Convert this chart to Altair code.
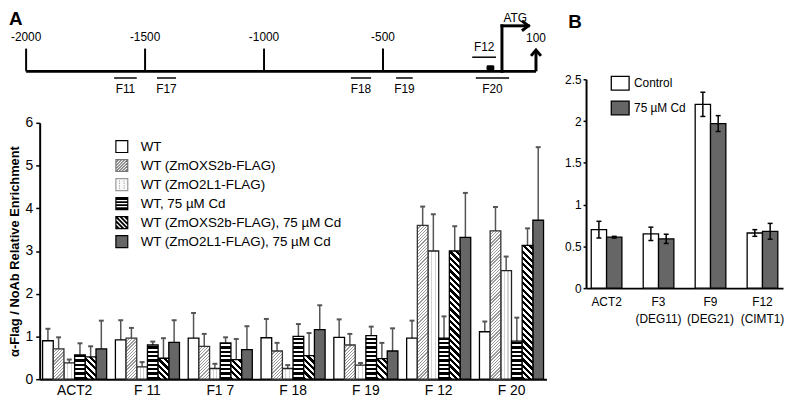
import altair as alt
import pandas as pd

# ======================= DATA =======================
# Panel A, promoter map (bp relative to ATG)
map_ticks = [-2000, -1500, -1000, -500]
map_tick_labels = ["-2000", "-1500", "-1000", "-500"]
map_end = 143
map_end_label = "100"
frag_names = ["F11", "F17", "F18", "F19", "F20"]
frag_start = [-1630, -1450, -635, -445, -110]
frag_end = [-1535, -1370, -550, -375, 30]
f12_name = "F12"
f12_start, f12_end = -125, -25
box_start, box_end = -65, -32
atg_pos = 0
atg_arrow_end = 111

# Panel A, ChIP enrichment
groups_a = ["ACT2", "F 11", "F1 7", "F 18", "F 19", "F 12", "F 20"]
series_a = ["WT", "WT (ZmOXS2b-FLAG)", "WT (ZmO2L1-FLAG)", "WT, 75 µM Cd",
            "WT (ZmOXS2b-FLAG), 75 µM Cd", "WT (ZmO2L1-FLAG), 75 µM Cd"]
wt = [0.90, 0.92, 0.96, 0.97, 0.98, 0.96, 1.11]
wt_sd = [0.28, 0.46, 0.59, 0.44, 0.42, 0.41, 0.24]
oxs = [0.71, 0.96, 0.77, 0.66, 0.80, 3.60, 3.47]
oxs_sd = [0.27, 0.24, 0.29, 0.19, 0.26, 0.44, 0.56]
o2l = [0.38, 0.29, 0.25, 0.25, 0.33, 3.00, 2.54]
o2l_sd = [0.08, 0.11, 0.11, 0.08, 0.05, 0.86, 0.33]
wtcd = [0.57, 0.80, 0.85, 1.00, 1.02, 0.96, 0.89]
wtcd_sd = [0.27, 0.08, 0.13, 0.29, 0.21, 0.51, 0.55]
oxscd = [0.52, 0.49, 0.46, 0.55, 0.48, 3.00, 3.13]
oxscd_sd = [0.25, 0.47, 0.48, 0.53, 0.37, 0.58, 0.40]
o2lcd = [0.71, 0.86, 0.69, 1.16, 0.66, 3.32, 3.72]
o2lcd_sd = [0.66, 0.52, 0.55, 0.57, 0.53, 1.04, 1.71]

# Panel B
groups_b = ["ACT2", "F3\n(DEG11)", "F9\n(DEG21)", "F12\n(CIMT1)"]
conds_b = ["Control", "75 µM Cd"]
control = [0.70, 0.65, 2.20, 0.66]
control_sd = [0.10, 0.08, 0.145, 0.04]
cd = [0.61, 0.59, 1.97, 0.68]
cd_sd = [0.01, 0.055, 0.095, 0.095]

# ======================= LAYOUT / STYLE =======================
FONT = "Liberation Sans"
A_W, A_H = 512, 259
B_W, B_H = 199, 211
MAP_H = 86
MAP_DOM = [-1943, 187]
MAP_Y = [-26, 60]
LV_TICK_TOP, LV_TICK_LAB = 23, 35
LV_FRAG, LV_FRAG_LAB = -6.7, -17.5
LV_F12, LV_F12_LAB = 14.3, 25
LV_BOX = (0.8, 6.2)
LV_ATG, LV_ATG_LAB = 46, 54
LV_END, LV_END_LAB = 21.6, 33.3

# ======================= PANEL A: MAP =======================
SCX = alt.Scale(domain=MAP_DOM, nice=False, zero=False)
SCY = alt.Scale(domain=MAP_Y, nice=False, zero=False)


def mx(f):
    return alt.X(f, type="quantitative", scale=SCX, axis=None, title=None)


def my(f):
    return alt.Y(f, type="quantitative", scale=SCY, axis=None, title=None)


txt = dict(font=FONT, fontSize=12, color="black", baseline="middle", align="center")

line_df = pd.DataFrame({"a": [map_ticks[0]], "b": [map_end], "y": [0]})
tick_df = pd.DataFrame({"pos": map_ticks, "lab": map_tick_labels,
                        "y0": 0, "y1": LV_TICK_TOP, "ly": LV_TICK_LAB})
frag_df = pd.DataFrame({"name": frag_names, "a": frag_start, "b": frag_end,
                        "mid": [(s + e) / 2 for s, e in zip(frag_start, frag_end)],
                        "y": LV_FRAG, "ly": LV_FRAG_LAB})
f12_df = pd.DataFrame({"name": [f12_name], "a": [f12_start], "b": [f12_end],
                       "mid": [(f12_start + f12_end) / 2], "y": [LV_F12], "ly": [LV_F12_LAB]})
box_df = pd.DataFrame({"a": [box_start], "b": [box_end], "y0": [LV_BOX[0]], "y1": [LV_BOX[1]]})
atg_v_df = pd.DataFrame({"x": [atg_pos], "y0": [0], "y1": [LV_ATG]})
atg_h_df = pd.DataFrame({"a": [atg_pos], "b": [atg_arrow_end], "y": [LV_ATG]})
atg_lab_df = pd.DataFrame({"x": [(atg_pos + atg_arrow_end) / 2], "y": [LV_ATG_LAB], "t": ["ATG"]})
end_v_df = pd.DataFrame({"x": [map_end], "y0": [0], "y1": [LV_END]})
end_lab_df = pd.DataFrame({"x": [map_end], "y": [LV_END_LAB], "t": [map_end_label]})

CHEV_R = "M-1.3,-1L0,0L-1.3,1"
CHEV_U = "M-1,1.2L0,0L1,1.2"

map_layers = [
    alt.Chart(line_df).mark_rule(strokeWidth=3, color="black").encode(x=mx("a"), x2="b", y=my("y")),
    alt.Chart(tick_df).mark_rule(strokeWidth=2, color="black").encode(x=mx("pos"), y=my("y0"), y2="y1"),
    alt.Chart(tick_df).mark_text(**txt).encode(x=mx("pos"), y=my("ly"), text="lab:N"),
    alt.Chart(frag_df).mark_rule(strokeWidth=1.5, color="black").encode(x=mx("a"), x2="b", y=my("y")),
    alt.Chart(frag_df).mark_text(**txt).encode(x=mx("mid"), y=my("ly"), text="name:N"),
    alt.Chart(f12_df).mark_rule(strokeWidth=1.5, color="black").encode(x=mx("a"), x2="b", y=my("y")),
    alt.Chart(f12_df).mark_text(**txt).encode(x=mx("mid"), y=my("ly"), text="name:N"),
    alt.Chart(box_df).mark_rect(color="black", cornerRadius=1.5).encode(x=mx("a"), x2="b", y=my("y0"), y2="y1"),
    alt.Chart(atg_v_df).mark_rule(strokeWidth=3, color="black", strokeCap="square").encode(x=mx("x"), y=my("y0"), y2="y1"),
    alt.Chart(atg_h_df).mark_rule(strokeWidth=3, color="black", strokeCap="square").encode(x=mx("a"), x2="b", y=my("y")),
    alt.Chart(atg_h_df).mark_point(shape=CHEV_R, size=100, filled=False, stroke="black",
                                   strokeWidth=3, strokeJoin="miter", opacity=1).encode(x=mx("b"), y=my("y")),
    alt.Chart(atg_lab_df).mark_text(**txt).encode(x=mx("x"), y=my("y"), text="t:N"),
    alt.Chart(end_v_df).mark_rule(strokeWidth=3, color="black").encode(x=mx("x"), y=my("y0"), y2="y1"),
    alt.Chart(end_v_df).mark_point(shape=CHEV_U, size=100, filled=False, stroke="black",
                                   strokeWidth=3, strokeJoin="miter", opacity=1).encode(x=mx("x"), y=my("y1")),
    alt.Chart(end_lab_df).mark_text(**txt).encode(x=mx("x"), y=my("y"), text="t:N"),
]
map_chart = alt.layer(*map_layers).properties(
    width=A_W, height=MAP_H,
    title=alt.TitleParams("A", anchor="start", frame="group", fontSize=19, fontWeight="bold",
                          font=FONT, dx=-31, dy=17, offset=0, color="black"),
)

# ======================= PANEL A: BARS =======================
vals = [wt, oxs, o2l, wtcd, oxscd, o2lcd]
sds = [wt_sd, oxs_sd, o2l_sd, wtcd_sd, oxscd_sd, o2lcd_sd]
rows = []
for si, s in enumerate(series_a):
    for gi, g in enumerate(groups_a):
        v = vals[si][gi]
        rows.append({"g": g, "s": s, "v": v, "top": v + sds[si][gi], "key": f"{gi}|{si}"})
dfA = pd.DataFrame(rows)

PI_A, PO_A = 0.12, 0.04
step_a = A_W / (len(groups_a) - PI_A + 2 * PO_A)
bar_w = step_a * (1 - PI_A) / len(series_a)
px_per_unit = A_H / 6.0

XA = alt.X("g:N", scale=alt.Scale(domain=groups_a, paddingInner=PI_A, paddingOuter=PO_A),
           axis=alt.Axis(title=None, labelAngle=0, ticks=False, labelFontSize=14, labelFont=FONT,
                         labelColor="black", domainColor="black", domainWidth=2, labelPadding=4))
XOA = alt.XOffset("s:N", scale=alt.Scale(domain=series_a, paddingInner=0, paddingOuter=0))


def YA(f):
    return alt.Y(f, type="quantitative", scale=alt.Scale(domain=[0, 6], nice=False),
                 axis=alt.Axis(values=[0, 1, 2, 3, 4, 5, 6], title="α-Flag / NoAb Relative Enrichment",
                               titleFontWeight="bold", titleFontSize=13, titleFont=FONT, titleColor="black",
                               labelFontSize=14, labelFont=FONT, labelColor="black", tickSize=4,
                               tickColor="black", tickWidth=1.5, grid=False, domainColor="black",
                               domainWidth=2, labelPadding=3, titlePadding=4))


def stop_list(dt, frac, on, off):
    out = []
    k = 0
    while k * dt < 1:
        a = k * dt
        b = min(1.0, (k + frac) * dt)
        c = min(1.0, (k + 1) * dt)
        out += [(a, on), (b, on), (b, off), (c, off)]
        k += 1
    return [alt.GradientStop(offset=round(o, 5), color=c) for o, c in out]


def grad_h(h, period, frac, on, off):
    return alt.LinearGradient(gradient="linear", x1=0, y1=1, x2=0, y2=0,
                              stops=stop_list(period / max(h, 1), frac, on, off))


def grad_diag(h, period, frac, on, off, slash=True):
    w = bar_w
    lam = (w + h) / (w * w + h * h)
    dt = period / (w + h)
    if slash:
        return alt.LinearGradient(gradient="linear", x1=0, y1=0, x2=lam * w, y2=lam * h,
                                  stops=stop_list(dt, frac, on, off))
    return alt.LinearGradient(gradient="linear", x1=0, y1=1, x2=lam * w, y2=1 - lam * h,
                              stops=stop_list(dt, frac, on, off))


dots_grad = alt.LinearGradient(gradient="linear", x1=0, y1=0, x2=1, y2=0, stops=[
    alt.GradientStop(offset=0, color="white"), alt.GradientStop(offset=0.28, color="white"),
    alt.GradientStop(offset=0.28, color="#d4d4d4"), alt.GradientStop(offset=0.38, color="#d4d4d4"),
    alt.GradientStop(offset=0.38, color="white"), alt.GradientStop(offset=0.62, color="white"),
    alt.GradientStop(offset=0.62, color="#d4d4d4"), alt.GradientStop(offset=0.72, color="#d4d4d4"),
    alt.GradientStop(offset=0.72, color="white"), alt.GradientStop(offset=1, color="white")])

enc_bar = dict(x=XA, xOffset=XOA, y=YA("v"))
a_layers = [
    alt.Chart().mark_rule(color="#555555", strokeWidth=1.5).encode(x=XA, xOffset=XOA, y=YA("v"), y2="top"),
    alt.Chart().mark_tick(color="#555555", thickness=2, size=5, opacity=1).encode(x=XA, xOffset=XOA, y=YA("top")),
    alt.Chart().transform_filter(alt.datum.s == series_a[0]).mark_bar(
        fill="white", stroke="black", strokeWidth=1.3).encode(**enc_bar),
    alt.Chart().transform_filter(alt.datum.s == series_a[2]).mark_bar(
        fill=dots_grad, stroke="#222222", strokeWidth=1.3).encode(**enc_bar),
    alt.Chart().transform_filter(alt.datum.s == series_a[5]).mark_bar(
        fill="#666666", stroke="black", strokeWidth=1.3).encode(**enc_bar),
]
for gi, g in enumerate(groups_a):
    for si, kind in [(1, "light"), (3, "horiz"), (4, "bold")]:
        h = vals[si][gi] * px_per_unit
        if kind == "light":
            fill = grad_diag(h, 3.2, 0.4, "#9a9a9a", "white", slash=True)
            stroke = "#333333"
        elif kind == "horiz":
            fill = grad_h(h, 4.4, 0.55, "black", "white")
            stroke = "black"
        else:
            fill = grad_diag(h, 6.4, 0.5, "black", "white", slash=False)
            stroke = "black"
        a_layers.append(
            alt.Chart().transform_filter(alt.datum.key == f"{gi}|{si}").mark_bar(
                fill=fill, stroke=stroke, strokeWidth=1.3).encode(**enc_bar))


# legend symbols (custom paths in unit square)
def seg(x0, y0, x1, y1):
    return f"M{x0:.3f},{y0:.3f}L{x1:.3f},{y1:.3f}"


SQ = "M-1,-1H1V1H-1Z"
p_slash = SQ
for c in [-1.5, -1.0, -0.5, 0.0, 0.5, 1.0, 1.5]:
    xa, xb = max(-1, c - 1), min(1, c + 1)
    p_slash += seg(xa, c - xa, xb, c - xb)
p_dots = SQ
for xx in [-0.45, 0.3]:
    for yy in [-0.6, -0.2, 0.2, 0.6]:
        p_dots += f"M{xx},{yy}h0.15"
p_horiz = SQ
for yc in [-0.75, -0.25, 0.25, 0.75]:
    for d in [-0.05, 0.05]:
        p_horiz += seg(-1, yc + d, 1, yc + d)
p_back = SQ
for c in [-1.5, -0.75, 0.0, 0.75, 1.5]:
    for d in [-0.08, 0.08]:
        cc = c + d
        xa, xb = max(-1, cc - 1), min(1, cc + 1)
        if xb > xa:
            p_back += seg(xa, xa - cc, xb, xb - cc)

leg_a = alt.Legend(title=None, orient="none", legendX=76, legendY=17, symbolSize=144,
                   symbolStrokeWidth=1.2, labelFontSize=13.5, labelFont=FONT, labelColor="black",
                   labelOffset=12, rowPadding=1.2, labelLimit=400, padding=0)
legend_layer = alt.Chart().transform_filter("false").mark_point(filled=True, strokeWidth=1.2, opacity=1).encode(
    shape=alt.Shape("s:N", scale=alt.Scale(domain=series_a, range=[SQ, p_slash, p_dots, p_horiz, p_back, SQ]),
                    legend=leg_a),
    fill=alt.Fill("s:N", scale=alt.Scale(domain=series_a,
                                         range=["white", "white", "#fafafa", "white", "white", "#666666"]),
                  legend=leg_a),
    stroke=alt.Stroke("s:N", scale=alt.Scale(domain=series_a,
                                             range=["black", "#777777", "#999999", "black", "black", "black"]),
                      legend=leg_a),
)
a_layers.append(legend_layer)
bars_a = alt.layer(*a_layers, data=dfA).properties(width=A_W, height=A_H)

col_a = alt.vconcat(map_chart, bars_a, spacing=19).resolve_scale(
    fill="independent", stroke="independent", shape="independent"
).resolve_legend(fill="independent", stroke="independent", shape="independent")

# ======================= PANEL B =======================
rows_b = []
for ci, c in enumerate(conds_b):
    vv, ss = (control, control_sd) if ci == 0 else (cd, cd_sd)
    for gi, g in enumerate(groups_b):
        rows_b.append({"g": g, "c": c, "v": vv[gi], "lo": vv[gi] - ss[gi], "hi": vv[gi] + ss[gi]})
dfB = pd.DataFrame(rows_b)

XB = alt.X("g:N", scale=alt.Scale(domain=groups_b, paddingInner=0.41, paddingOuter=0.10),
           axis=alt.Axis(title=None, labelAngle=0, ticks=False, labelFontSize=12, labelFont=FONT,
                         labelColor="black", labelExpr="split(datum.label, '\\n')", labelLineHeight=17,
                         labelBaseline="middle", domainColor="black", domainWidth=2, labelPadding=14))
XOB = alt.XOffset("c:N", scale=alt.Scale(domain=conds_b, paddingInner=0, paddingOuter=0))


def YB(f):
    return alt.Y(f, type="quantitative", scale=alt.Scale(domain=[0, 2.5], nice=False),
                 axis=alt.Axis(values=[0, 0.5, 1, 1.5, 2, 2.5], format="~g", title=None, grid=False,
                               labelFontSize=12, labelFont=FONT, labelColor="black", tickSize=3,
                               tickColor="black", tickWidth=1.5, domainColor="black", domainWidth=2,
                               labelPadding=2))


leg_b = alt.Legend(title=None, orient="none", legendX=24.5, legendY=-6,
                   symbolType="M-1,-0.78H1V0.78H-1Z", symbolSize=324, symbolStrokeColor="black",
                   symbolStrokeWidth=1.3, labelFontSize=12, labelFont=FONT, labelColor="black",
                   labelOffset=4, rowPadding=5, padding=0)
bars_b = alt.layer(
    alt.Chart().mark_bar(stroke="black", strokeWidth=1.3).encode(
        x=XB, xOffset=XOB, y=YB("v"),
        fill=alt.Fill("c:N", scale=alt.Scale(domain=conds_b, range=["white", "#666666"]), legend=leg_b)),
    alt.Chart().mark_rule(color="black", strokeWidth=1.5).encode(x=XB, xOffset=XOB, y=YB("lo"), y2="hi"),
    alt.Chart().mark_tick(color="black", thickness=1.5, size=5, opacity=1).encode(x=XB, xOffset=XOB, y=YB("lo")),
    alt.Chart().mark_tick(color="black", thickness=1.5, size=5, opacity=1).encode(x=XB, xOffset=XOB, y=YB("hi")),
    data=dfB,
).properties(
    width=B_W, height=B_H,
    title=alt.TitleParams("B", anchor="start", frame="group", fontSize=19, fontWeight="bold",
                          font=FONT, dx=-18, offset=42, color="black"),
)
spacer_b = alt.Chart(dfB).transform_filter("false").mark_point(opacity=0).properties(width=B_W, height=1)
col_b = alt.vconcat(spacer_b, bars_b, spacing=0).resolve_scale(
    fill="independent"
).resolve_legend(fill="independent")

chart = alt.hconcat(col_a, col_b, spacing=17).resolve_scale(
    fill="independent", stroke="independent", shape="independent", xOffset="independent"
).resolve_legend(fill="independent", stroke="independent", shape="independent").properties(
    padding={"left": 0, "top": 0, "right": 0, "bottom": 0}
).configure(font=FONT).configure_view(stroke=None)

chart.save("out.html", embed_options={"renderer": "svg", "actions": False})
